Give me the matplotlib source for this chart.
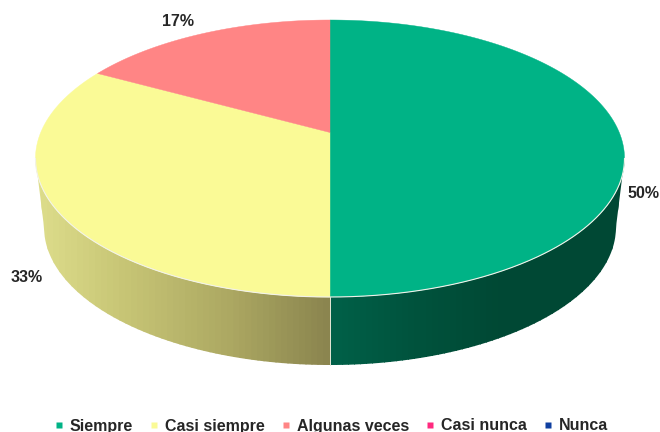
import numpy as np
import matplotlib
matplotlib.use("Agg")
import matplotlib.pyplot as plt
from matplotlib.lines import Line2D

plt.rcParams['font.family'] = ['Liberation Sans', 'DejaVu Sans']

categories = ['Siempre', 'Casi siempre', 'Algunas veces', 'Casi nunca', 'Nunca']
shares = [50, 33, 17, 0, 0]
labels = ['50%', '33%', '17%', '', '']
label_xy = [(644, 194), (27, 278), (178, 21), None, None]
top_colors = ['#00B386', '#FAFA96', '#FF8585', '#FF2A7F', '#0F3FA0']

# wall shading: (pixel x, rgb)
wall_shades = [
    ([330, 420, 500, 625], [(0, 96, 72), (0, 82, 60), (0, 72, 52), (0, 72, 52)]),
    ([35, 120, 230, 330], [(222, 222, 140), (200, 198, 118), (172, 168, 98), (138, 132, 78)]),
    ([35, 330], [(170, 90, 90), (170, 90, 90)]),
    ([35, 330], [(170, 30, 90), (170, 30, 90)]),
    ([35, 330], [(10, 40, 110), (10, 40, 110)]),
]

CX, CY, RX, RY = 330.0, 158.5, 294.5, 138.5
APEX_UP = 26.0
BX, BY, BRX, BRY = 330.0, 227.0, 286.0, 138.0
K = 2 * APEX_UP / (2 * RY)
BAND_PX = 6


def rim(theta):
    """Perspective view of the pie's circular rim (theta clockwise from top)."""
    s, c = np.sin(theta), np.cos(theta)
    w = 1 + K * c
    return RX * np.sqrt(1 - K ** 2) * s / w, (RY * c + APEX_UP) / w


def wall_top(x):
    return CY + RY * np.sqrt(np.clip(1 - ((x - CX) / RX) ** 2, 0, 1))


def wall_bottom(x):
    inner = BY + BRY * np.sqrt(np.clip(1 - ((x - BX) / BRX) ** 2, 0, 1))
    # outside the lower ellipse the silhouette runs straight up to the top ellipse
    d = np.abs(x - CX)
    side = BY + (CY - BY) * np.clip((d - BRX) / (RX - BRX), 0, 1)
    return np.where(d > BRX, side, inner)


fig = plt.figure(figsize=(6.6, 4.32), dpi=100)
ax = fig.add_axes([0, 0, 1, 1])
ax.set_xlim(0, 660)
ax.set_ylim(432, 0)
ax.axis('off')

edges = np.cumsum([0] + shares) / sum(shares) * 2 * np.pi

# side wall, painted as vertical shading bands
for i, share in enumerate(shares):
    if share <= 0:
        continue
    th = np.linspace(edges[i], edges[i + 1], 1500)
    X, Y = rim(th)
    keep = Y <= 0
    if not keep.any():
        continue
    x0, x1 = CX + X[keep].min(), CX + X[keep].max()
    xs, stops = wall_shades[i]
    stops = np.array(stops) / 255
    lefts = np.arange(x0, x1, BAND_PX)
    for left in lefts:
        right = min(left + BAND_PX + 1, x1)
        xx = np.linspace(left, right, 12)
        col = [np.interp((left + right) / 2, xs, stops[:, k]) for k in range(3)]
        ax.fill_between(xx, wall_top(xx), wall_bottom(xx), facecolor=col, edgecolor='none', lw=0)

# seam between the two wall segments
ax.plot([CX, BX], [CY + RY, BY + BRY], color='#E8E8D8', lw=0.7, zorder=2)

# top face
for i, share in enumerate(shares):
    if share <= 0:
        continue
    th = np.linspace(edges[i], edges[i + 1], 300)
    X, Y = rim(th)
    px = np.r_[CX, CX + X]
    py = np.r_[CY - APEX_UP, CY - Y]
    ax.fill(px, py, facecolor=top_colors[i], edgecolor=top_colors[i], lw=0.3, zorder=3)

# light rim along the front of the top face
t = np.linspace(np.pi / 2, 3 * np.pi / 2, 400)
ax.plot(CX + RX * np.sin(t), CY - RY * np.cos(t), color='#F2F2EA', lw=0.8, zorder=4)

# data labels
for lab, xy in zip(labels, label_xy):
    if xy:
        ax.text(xy[0], xy[1], lab, ha='center', va='center', fontsize=11.5,
                fontweight='bold', color='#262626', zorder=5)

# legend
handles = [Line2D([], [], ls='none', marker='s', ms=4.3, color=c, mec='none') for c in top_colors]
leg = ax.legend(handles, categories, loc='center', bbox_to_anchor=(331, 426),
                bbox_transform=ax.transData, ncol=5, frameon=False,
                prop={'size': 11.5, 'weight': 'bold'}, handlelength=0.6, handletextpad=0.4,
                columnspacing=1.0, borderpad=0, labelcolor='#262626')

fig.savefig('out.png', dpi=100)
